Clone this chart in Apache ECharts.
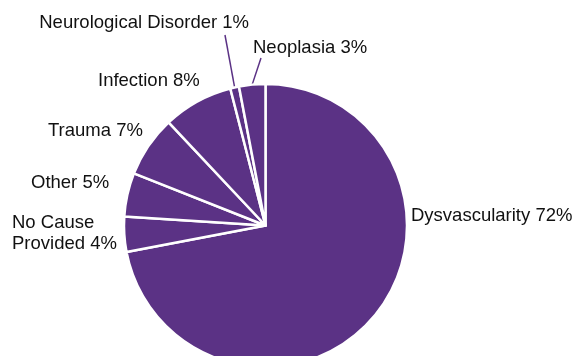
<!DOCTYPE html>
<html>
<head>
<meta charset="utf-8">
<style>
  html, body { margin: 0; padding: 0; background: #ffffff; }
  #chart { width: 574px; height: 356px; }
</style>
<script src="https://cdn.jsdelivr.net/npm/echarts@6/dist/echarts.min.js"></script>
</head>
<body>
<div id="chart"></div>
<script>
// Causes of amputation, share of cases (%)
const causes = ['Dysvascularity', 'No Cause\nProvided', 'Other', 'Trauma', 'Infection', 'Neurological Disorder', 'Neoplasia'];
const shares = [72, 4, 5, 7, 8, 1, 3];

const PURPLE = '#5b3285';

// Where each label sits; `tail` is the end of its leader line (if any)
const labelSpots = {
  'Dysvascularity':        { x: 411, y: 216, align: 'left' },
  'No Cause\nProvided':    { x: 12,  y: 233, align: 'left' },
  'Other':                 { x: 31,  y: 183, align: 'left' },
  'Trauma':                { x: 48,  y: 131, align: 'left' },
  'Infection':             { x: 98,  y: 81,  align: 'left' },
  'Neurological Disorder': { x: 249, y: 23,  align: 'right', tail: [225, 35] },
  'Neoplasia':             { x: 253, y: 48,  align: 'left',  tail: [261, 58] }
};

const CX = 265.5, CY = 225.5, R = 141.5;
const total = shares.reduce((a, b) => a + b, 0);

// Point on the rim at the middle of slice i (clockwise from 12 o'clock)
function rimPoint(i) {
  let before = 0;
  for (let k = 0; k < i; k++) before += shares[k];
  const frac = (before + shares[i] / 2) / total;
  const a = frac * Math.PI * 2;
  return [CX + R * Math.sin(a), CY - R * Math.cos(a)];
}

const chart = echarts.init(document.getElementById('chart'), null, { renderer: 'canvas' });

chart.setOption({
  animation: false,
  backgroundColor: '#ffffff',
  series: [{
    type: 'pie',
    center: [CX, CY],
    radius: [0, R],
    startAngle: 90,
    clockwise: true,
    avoidLabelOverlap: false,
    itemStyle: { color: PURPLE, borderColor: '#ffffff', borderWidth: 2.5 },
    label: {
      show: true,
      formatter: p => p.name + ' ' + p.value + '%',
      color: '#111111',
      fontFamily: 'Liberation Sans, Arial, sans-serif',
      fontSize: 18.5,
      lineHeight: 21
    },
    labelLine: { show: true, lineStyle: { color: PURPLE, width: 1.5 } },
    emphasis: { disabled: true },
    data: causes.map((name, i) => ({
      name: name,
      value: shares[i],
      labelLine: { show: !!labelSpots[name].tail }
    })),
    labelLayout: function (params) {
      const name = causes[params.dataIndex];
      const s = labelSpots[name];
      const out = { x: s.x, y: s.y, align: s.align, verticalAlign: 'middle' };
      if (s.tail) out.labelLinePoints = [rimPoint(params.dataIndex), s.tail];
      return out;
    }
  }]
});
</script>
</body>
</html>
